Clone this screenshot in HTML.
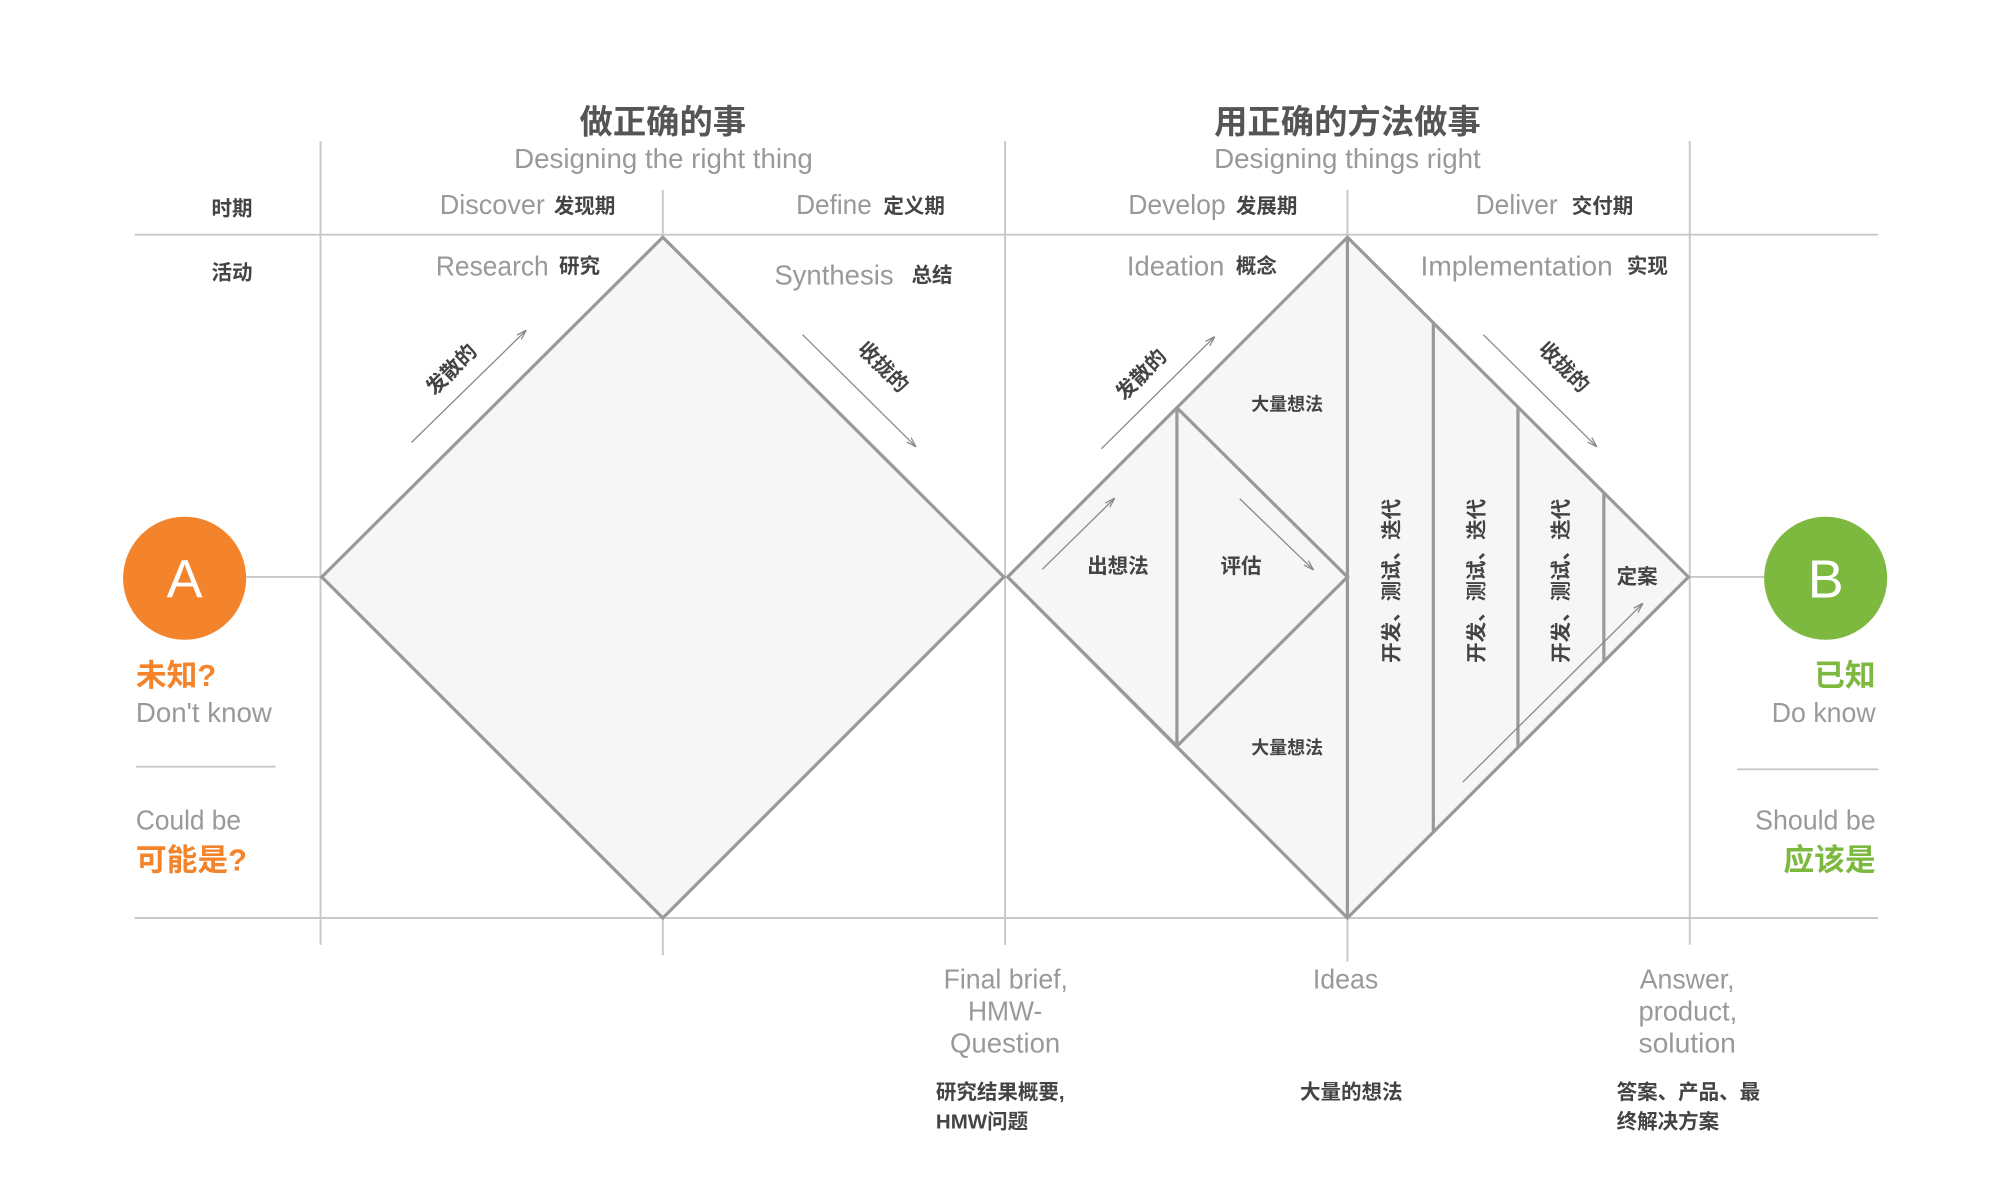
<!DOCTYPE html>
<html><head><meta charset="utf-8"><style>
html,body{margin:0;padding:0;background:#fff;}
svg{display:block;}
text{font-family:"Liberation Sans","Noto Sans CJK SC",sans-serif;}
.t{font-size:26px;font-weight:bold;fill:#555;text-anchor:middle;}
.en{font-size:22px;fill:#999;}
.cn{font-size:16px;font-weight:bold;fill:#444;}
.cs{font-size:14px;font-weight:bold;fill:#444;}
</style></head><body>
<svg width="2000" height="1186" viewBox="0 0 1560 925" xmlns="http://www.w3.org/2000/svg">
<defs><marker id="ah" viewBox="0 0 10 10" refX="9" refY="5" markerWidth="8" markerHeight="8" orient="auto"><path d="M0,2 L10,5 L0,8" fill="none" stroke="#888" stroke-width="1.2"/></marker></defs>
<g stroke="#c8c8c8" stroke-width="1.5" fill="none">
<line x1="105" y1="183" x2="1465" y2="183"/>
<line x1="105" y1="716" x2="1465" y2="716"/>
<line x1="250" y1="110" x2="250" y2="737"/>
<line x1="784" y1="110" x2="784" y2="737"/>
<line x1="1318" y1="110" x2="1318" y2="737"/>
<line x1="517" y1="148" x2="517" y2="183"/>
<line x1="517" y1="716" x2="517" y2="745"/>
<line x1="1051" y1="148" x2="1051" y2="183"/>
<line x1="1051" y1="716" x2="1051" y2="750"/>
<line x1="192" y1="450" x2="250" y2="450"/>
<line x1="1318" y1="450" x2="1376" y2="450"/>
<line x1="106" y1="598" x2="215" y2="598"/>
<line x1="1355" y1="600" x2="1465" y2="600"/>
</g>
<g stroke="#999" stroke-width="2.5" fill="#f6f6f6">
<polygon points="251,450 517,185 783,450 517,716"/>
<polygon points="786,450 1051,185 1317,450 1051,716"/>
<polygon points="786,450 918,318 1051,450 918,582"/>
<line x1="918" y1="318" x2="918" y2="582"/>
<line x1="1051" y1="185" x2="1051" y2="716"/>
<line x1="1118" y1="252" x2="1118" y2="649"/>
<line x1="1184" y1="318" x2="1184" y2="583"/>
<line x1="1251" y1="385" x2="1251" y2="516"/>
</g>
<g stroke="#888" stroke-width="1" marker-end="url(#ah)">
<line x1="321" y1="345" x2="410" y2="258"/>
<line x1="626" y1="261" x2="714" y2="348"/>
<line x1="859" y1="350" x2="947" y2="263"/>
<line x1="1157" y1="261" x2="1245" y2="348"/>
<line x1="813" y1="444" x2="869" y2="389"/>
<line x1="967" y1="389" x2="1024" y2="444"/>
<line x1="1141" y1="610" x2="1281" y2="471"/>
</g>
<circle cx="144" cy="451" r="48" fill="#f3842b"/>
<circle cx="1424" cy="451" r="48" fill="#7db83f"/>
<text x="144" y="466" text-anchor="middle" font-size="42" fill="#fff">A</text>
<text x="1424" y="466" text-anchor="middle" font-size="42" fill="#fff">B</text>
<text class="t" x="517" y="104">做正确的事</text>
<text class="t" x="1051" y="104">用正确的方法做事</text>
<text class="en" x="401" y="131" textLength="233" lengthAdjust="spacingAndGlyphs">Designing the right thing</text>
<text class="en" x="947" y="131" textLength="208" lengthAdjust="spacingAndGlyphs">Designing things right</text>
<text class="cn" x="181" y="168" text-anchor="middle">时期</text>
<text class="cn" x="181" y="218" text-anchor="middle">活动</text>
<text class="en" x="343" y="167" textLength="82" lengthAdjust="spacingAndGlyphs">Discover</text><text class="cn" x="432" y="166">发现期</text>
<text class="en" x="621" y="167" textLength="59" lengthAdjust="spacingAndGlyphs">Define</text><text class="cn" x="689" y="166">定义期</text>
<text class="en" x="880" y="167" textLength="76" lengthAdjust="spacingAndGlyphs">Develop</text><text class="cn" x="964" y="166">发展期</text>
<text class="en" x="1151" y="167" textLength="64" lengthAdjust="spacingAndGlyphs">Deliver</text><text class="cn" x="1226" y="166">交付期</text>
<text class="en" x="340" y="215" textLength="88" lengthAdjust="spacingAndGlyphs">Research</text><text class="cn" x="436" y="213">研究</text>
<text class="en" x="604" y="222" textLength="93" lengthAdjust="spacingAndGlyphs">Synthesis</text><text class="cn" x="711" y="220">总结</text>
<text class="en" x="879" y="215" textLength="76" lengthAdjust="spacingAndGlyphs">Ideation</text><text class="cn" x="964" y="213">概念</text>
<text class="en" x="1108" y="215" textLength="150" lengthAdjust="spacingAndGlyphs">Implementation</text><text class="cn" x="1269" y="213">实现</text>
<text class="cn" transform="translate(356,292) rotate(-45)" text-anchor="middle">发散的</text>
<text class="cn" transform="translate(685,290) rotate(45)" text-anchor="middle">收拢的</text>
<text class="cn" transform="translate(894,296) rotate(-45)" text-anchor="middle">发散的</text>
<text class="cn" transform="translate(1216,290) rotate(45)" text-anchor="middle">收拢的</text>
<text class="cs" x="1004" y="320" text-anchor="middle">大量想法</text>
<text class="cs" x="1004" y="588" text-anchor="middle">大量想法</text>
<text class="cn" x="872" y="447" text-anchor="middle">出想法</text>
<text class="cn" x="968" y="447" text-anchor="middle">评估</text>
<text class="cn" x="1277" y="455" text-anchor="middle">定案</text>
<text class="cn" transform="translate(1091,453) rotate(-90)" text-anchor="middle">开发、测试、迭代</text>
<text class="cn" transform="translate(1157,453) rotate(-90)" text-anchor="middle">开发、测试、迭代</text>
<text class="cn" transform="translate(1223,453) rotate(-90)" text-anchor="middle">开发、测试、迭代</text>
<text x="106" y="535" font-size="24" font-weight="bold" fill="#f3842b">未知?</text>
<text class="en" x="106" y="563" textLength="106" lengthAdjust="spacingAndGlyphs">Don't know</text>
<text class="en" x="106" y="647" textLength="82" lengthAdjust="spacingAndGlyphs">Could be</text>
<text x="106" y="679" font-size="24" font-weight="bold" fill="#f3842b">可能是?</text>
<text x="1463" y="535" font-size="24" font-weight="bold" fill="#7db83f" text-anchor="end">已知</text>
<text class="en" x="1382" y="563" textLength="81" lengthAdjust="spacingAndGlyphs">Do know</text>
<text class="en" x="1369" y="647" textLength="94" lengthAdjust="spacingAndGlyphs">Should be</text>
<text x="1463" y="679" font-size="24" font-weight="bold" fill="#7db83f" text-anchor="end">应该是</text>
<text class="en" x="736" y="771" textLength="97" lengthAdjust="spacingAndGlyphs">Final brief,</text>
<text class="en" x="755" y="796" textLength="58" lengthAdjust="spacingAndGlyphs">HMW-</text>
<text class="en" x="741" y="821" textLength="86" lengthAdjust="spacingAndGlyphs">Question</text>
<text class="en" x="1024" y="771" textLength="51" lengthAdjust="spacingAndGlyphs">Ideas</text>
<text class="en" x="1279" y="771" textLength="74" lengthAdjust="spacingAndGlyphs">Answer,</text>
<text class="en" x="1278" y="796" textLength="77" lengthAdjust="spacingAndGlyphs">product,</text>
<text class="en" x="1278" y="821" textLength="76" lengthAdjust="spacingAndGlyphs">solution</text>
<text class="cn" x="730" y="857">研究结果概要,</text>
<text class="cn" x="730" y="880">HMW问题</text>
<text class="cn" x="1054" y="857" text-anchor="middle">大量的想法</text>
<text class="cn" x="1261" y="857">答案、产品、最</text>
<text class="cn" x="1261" y="880">终解决方案</text>
</svg>
</body></html>
